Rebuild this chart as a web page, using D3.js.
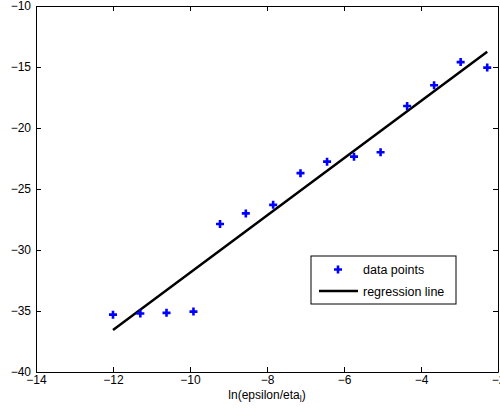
<!DOCTYPE html>
<html>
<head>
<meta charset="utf-8">
<script src="https://cdn.jsdelivr.net/npm/d3@7"></script>
<style>
  body { margin: 0; background: #fff; }
  svg { display: block; }
  .axis text { font-family: "Liberation Sans", Arial, sans-serif; font-size: 12px; fill: #000; }
  .axis path, .axis line { stroke: #000; stroke-width: 1; }
</style>
</head>
<body>
<svg id="chart" width="500" height="410"></svg>
<script>
// measured points, ln(epsilon/eta_l) vs response
var xValues = [-12.0, -11.29, -10.61, -9.91, -9.22, -8.55, -7.84, -7.13,
               -6.44, -5.74, -5.05, -4.36, -3.66, -2.97, -2.28];
var yValues = [-35.3, -35.2, -35.15, -35.05, -27.87, -27.0, -26.3, -23.7,
               -22.76, -22.35, -21.99, -18.2, -16.5, -14.6, -15.05];
// regression line end points
var lineX = [-12.0, -2.28];
var lineY = [-36.55, -13.75];

var xTicks = [-14, -12, -10, -8, -6, -4, -2];
var yTicks = [-40, -35, -30, -25, -20, -15, -10];
var legendLabels = ["data points", "regression line"];

var svg = d3.select("#chart");
var margin = {left: 36, right: 2, top: 6, bottom: 38};
var width = 500 - margin.left - margin.right,
    height = 410 - margin.top - margin.bottom;

var x = d3.scaleLinear().domain([-14, -2]).range([0, width]);
var y = d3.scaleLinear().domain([-40, -10]).range([height, 0]);

var g = svg.append("g")
    .attr("transform", "translate(" + margin.left + "," + margin.top + ")");

// axes with inward ticks on all four sides (box on)
var xAxisG = g.append("g").attr("class", "axis")
    .attr("transform", "translate(0," + height + ")")
    .call(d3.axisBottom(x).tickValues(xTicks).tickSizeInner(-5).tickSizeOuter(0).tickPadding(3));
g.append("g").attr("class", "axis")
    .call(d3.axisTop(x).tickValues(xTicks).tickSizeInner(-5).tickSizeOuter(0).tickFormat(""));
var yAxisG = g.append("g").attr("class", "axis")
    .call(d3.axisLeft(y).tickValues(yTicks).tickSizeInner(-5).tickSizeOuter(0).tickPadding(4));
g.append("g").attr("class", "axis")
    .attr("transform", "translate(" + width + ",0)")
    .call(d3.axisRight(y).tickValues(yTicks).tickSizeInner(-5).tickSizeOuter(0).tickFormat(""));

// labels sit outside, ticks point in
xAxisG.selectAll(".tick text").attr("y", 3).attr("dy", "0.71em");
yAxisG.selectAll(".tick text").attr("x", -5).attr("dy", "0.32em");

// regression line
var pts = lineX.map(function(v, i) { return [v, lineY[i]]; });
g.append("path")
    .datum(pts)
    .attr("d", d3.line().x(function(d) { return x(d[0]); }).y(function(d) { return y(d[1]); }))
    .attr("fill", "none")
    .attr("stroke", "#000")
    .attr("stroke-width", 2.5);

// plus markers
var plus = "M-4,0H4M0,-4V4";
g.selectAll(".pt")
    .data(xValues.map(function(v, i) { return [v, yValues[i]]; }))
    .enter().append("path")
    .attr("class", "pt")
    .attr("transform", function(d) { return "translate(" + x(d[0]) + "," + y(d[1]) + ")"; })
    .attr("d", plus)
    .attr("stroke", "#0000ff")
    .attr("stroke-width", 2.6)
    .attr("fill", "none");

// x label with subscript
var xl = svg.append("text")
    .attr("x", margin.left + width / 2)
    .attr("y", 399)
    .attr("text-anchor", "middle")
    .style("font-family", "Liberation Sans, Arial, sans-serif")
    .style("font-size", "12px");
xl.append("tspan").text("ln(epsilon/eta");
xl.append("tspan").attr("dy", 3).style("font-size", "9px").text("l");
xl.append("tspan").attr("dy", -3).text(")");

// legend
var leg = svg.append("g").attr("transform", "translate(311,256)");
leg.append("rect")
    .attr("width", 145).attr("height", 48)
    .attr("fill", "#fff").attr("stroke", "#000").attr("stroke-width", 1);
leg.append("path")
    .attr("transform", "translate(27,13.5)")
    .attr("d", plus)
    .attr("stroke", "#0000ff").attr("stroke-width", 2.6).attr("fill", "none");
leg.append("line")
    .attr("x1", 8).attr("x2", 47).attr("y1", 35).attr("y2", 35)
    .attr("stroke", "#000").attr("stroke-width", 2.5);
leg.selectAll(".lt")
    .data(legendLabels)
    .enter().append("text")
    .attr("class", "lt")
    .attr("x", 52)
    .attr("y", function(d, i) { return 18 + i * 21.5; })
    .style("font-family", "Liberation Sans, Arial, sans-serif")
    .style("font-size", "12.5px")
    .text(function(d) { return d; });
</script>
</body>
</html>
